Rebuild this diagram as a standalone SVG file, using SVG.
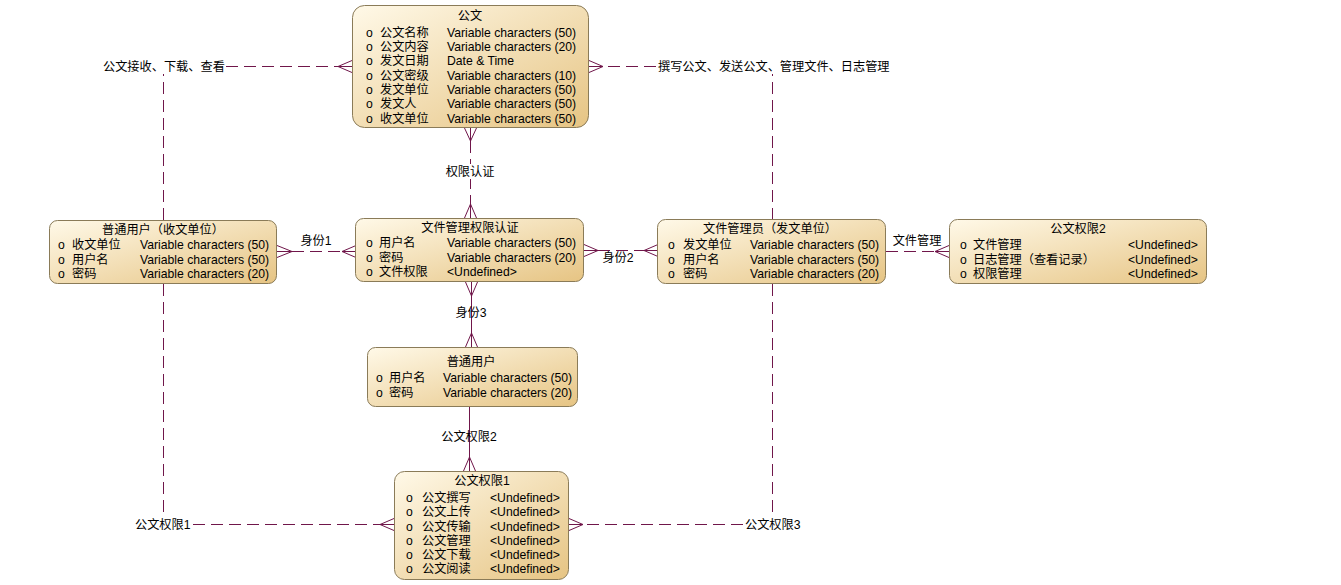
<svg xmlns="http://www.w3.org/2000/svg" width="1341" height="585" viewBox="0 0 1341 585">
<defs>
<linearGradient id="g" x1="0" y1="0" x2="1" y2="1">
<stop offset="0" stop-color="#fff9e8"/>
<stop offset="1" stop-color="#e6c483"/>
</linearGradient>
</defs>
<style>
.n{fill:url(#g);stroke:#8a7b58;stroke-width:1}
.t{font-family:"Liberation Sans","Noto Sans CJK SC",sans-serif;font-size:12.2px;fill:#000}
.m{text-anchor:middle}
.c{fill:none;stroke:#70164a;stroke-width:1}
.d{stroke-dasharray:12 6}
.bg{fill:#fff}
</style>
<rect width="1341" height="585" fill="#fff"/>
<g id="connectors">
<path class="c d" d="M163.5,220 V66.5 H338"/>
<path class="c" d="M338,66.5 L352,60.5 M338,66.5 L352,66.5 M338,66.5 L352,72.5"/>
<rect class="bg" x="101" y="59" width="124" height="15"/>
<text class="t" x="103" y="70.5">公文接收、下载、查看</text>
<path class="c d" d="M772.5,220 V66.5 H603"/>
<path class="c" d="M603,66.5 L589,60.5 M603,66.5 L589,66.5 M603,66.5 L589,72.5"/>
<rect class="bg" x="656" y="59" width="232" height="15"/>
<text class="t" x="658" y="70.5">撰写公文、发送公文、管理文件、日志管理</text>
<path class="c d" d="M470.5,141 V204"/>
<path class="c" d="M470.5,141 L464.5,128 M470.5,141 L470.5,128 M470.5,141 L476.5,128"/>
<path class="c" d="M470.5,204 L464.5,218 M470.5,204 L470.5,218 M470.5,204 L476.5,218"/>
<rect class="bg" x="444" y="164" width="52" height="15"/>
<text class="t m" x="470" y="176">权限认证</text>
<path class="c d" d="M292,251.5 H342"/>
<path class="c" d="M292,251.5 L277,245.5 M292,251.5 L277,251.5 M292,251.5 L277,257.5"/>
<path class="c" d="M342,251.5 L356,245.5 M342,251.5 L356,251.5 M342,251.5 L356,257.5"/>
<text class="t m" x="316" y="245">身份1</text>
<path class="c d" d="M598,250.5 H644"/>
<path class="c" d="M598,250.5 L584,244.5 M598,250.5 L584,250.5 M598,250.5 L584,256.5"/>
<path class="c" d="M644,250.5 L658,244.5 M644,250.5 L658,250.5 M644,250.5 L658,256.5"/>
<text class="t m" x="618" y="262">身份2</text>
<path class="c d" d="M886,251.5 H935"/>
<path class="c" d="M935,251.5 L949,245.5 M935,251.5 L949,251.5 M935,251.5 L949,257.5"/>
<text class="t m" x="917" y="245">文件管理</text>
<path class="c" d="M471.5,296 V333"/>
<path class="c" d="M471.5,296 L465.5,282 M471.5,296 L471.5,282 M471.5,296 L477.5,282"/>
<path class="c" d="M471.5,333 L465.5,347 M471.5,333 L471.5,347 M471.5,333 L477.5,347"/>
<text class="t m" x="471" y="317">身份3</text>
<path class="c" d="M469.5,407 V457"/>
<path class="c" d="M469.5,457 L463.5,471 M469.5,457 L469.5,471 M469.5,457 L475.5,471"/>
<text class="t m" x="469" y="441">公文权限2</text>
<path class="c d" d="M163.5,284 V524.5 H380"/>
<path class="c" d="M380,524.5 L394,518.5 M380,524.5 L394,524.5 M380,524.5 L394,530.5"/>
<rect class="bg" x="133" y="517" width="59" height="15"/>
<text class="t" x="135" y="528.5">公文权限1</text>
<path class="c d" d="M772.5,284 V524.5 H583"/>
<path class="c" d="M583,524.5 L569,518.5 M583,524.5 L569,524.5 M583,524.5 L569,530.5"/>
<rect class="bg" x="743" y="517" width="59" height="15"/>
<text class="t" x="745" y="528.5">公文权限3</text>
</g>
<g id="node-gongwen">
<rect class="n" x="352.5" y="5.5" width="236" height="122" rx="12"/>
<text class="t m" x="470" y="19.5">公文</text>
<g class="t">
<text x="366" y="36.5">o</text><text x="380" y="36.5">公文名称</text><text x="447" y="36.5">Variable characters (50)</text>
<text x="366" y="51">o</text><text x="380" y="51">公文内容</text><text x="447" y="51">Variable characters (20)</text>
<text x="366" y="65">o</text><text x="380" y="65">发文日期</text><text x="447" y="65">Date &amp; Time</text>
<text x="366" y="79.5">o</text><text x="380" y="79.5">公文密级</text><text x="447" y="79.5">Variable characters (10)</text>
<text x="366" y="93.5">o</text><text x="380" y="93.5">发文单位</text><text x="447" y="93.5">Variable characters (50)</text>
<text x="366" y="108">o</text><text x="380" y="108">发文人</text><text x="447" y="108">Variable characters (50)</text>
<text x="366" y="122.5">o</text><text x="380" y="122.5">收文单位</text><text x="447" y="122.5">Variable characters (50)</text>
</g>
</g>
<g id="node-putongyonghu-shouwen">
<rect class="n" x="49.5" y="220.5" width="227" height="63" rx="8"/>
<text class="t m" x="163" y="233.5">普通用户（收文单位）</text>
<g class="t">
<text x="58" y="249">o</text><text x="72" y="249">收文单位</text><text x="140" y="249">Variable characters (50)</text>
<text x="58" y="264">o</text><text x="72" y="264">用户名</text><text x="140" y="264">Variable characters (50)</text>
<text x="58" y="278">o</text><text x="72" y="278">密码</text><text x="140" y="278">Variable characters (20)</text>
</g>
</g>
<g id="node-renzheng">
<rect class="n" x="355.5" y="218.5" width="228" height="63" rx="8"/>
<text class="t m" x="470" y="232">文件管理权限认证</text>
<g class="t">
<text x="366" y="247">o</text><text x="379" y="247">用户名</text><text x="447" y="247">Variable characters (50)</text>
<text x="366" y="261.5">o</text><text x="379" y="261.5">密码</text><text x="447" y="261.5">Variable characters (20)</text>
<text x="366" y="276">o</text><text x="379" y="276">文件权限</text><text x="447" y="276">&lt;Undefined&gt;</text>
</g>
</g>
<g id="node-guanliyuan">
<rect class="n" x="657.5" y="219.5" width="228" height="64" rx="8"/>
<text class="t m" x="770" y="233">文件管理员（发文单位）</text>
<g class="t">
<text x="668" y="249">o</text><text x="683" y="249">发文单位</text><text x="750" y="249">Variable characters (50)</text>
<text x="668" y="263.5">o</text><text x="683" y="263.5">用户名</text><text x="750" y="263.5">Variable characters (50)</text>
<text x="668" y="278">o</text><text x="683" y="278">密码</text><text x="750" y="278">Variable characters (20)</text>
</g>
</g>
<g id="node-quanxian2">
<rect class="n" x="949.5" y="219.5" width="257" height="64" rx="8"/>
<text class="t m" x="1078" y="232.5">公文权限2</text>
<g class="t">
<text x="960" y="249">o</text><text x="973" y="249">文件管理</text><text x="1128" y="249">&lt;Undefined&gt;</text>
<text x="960" y="263.5">o</text><text x="973" y="263.5">日志管理（查看记录）</text><text x="1128" y="263.5">&lt;Undefined&gt;</text>
<text x="960" y="278">o</text><text x="973" y="278">权限管理</text><text x="1128" y="278">&lt;Undefined&gt;</text>
</g>
</g>
<g id="node-putongyonghu">
<rect class="n" x="367.5" y="347.5" width="210" height="59" rx="8"/>
<text class="t m" x="471" y="366">普通用户</text>
<g class="t">
<text x="376" y="382">o</text><text x="389" y="382">用户名</text><text x="443" y="382">Variable characters (50)</text>
<text x="376" y="397">o</text><text x="389" y="397">密码</text><text x="443" y="397">Variable characters (20)</text>
</g>
</g>
<g id="node-quanxian1">
<rect class="n" x="394.5" y="471.5" width="174" height="108" rx="10"/>
<text class="t m" x="482" y="485">公文权限1</text>
<g class="t">
<text x="406" y="502">o</text><text x="422" y="502">公文撰写</text><text x="490" y="502">&lt;Undefined&gt;</text>
<text x="406" y="516">o</text><text x="422" y="516">公文上传</text><text x="490" y="516">&lt;Undefined&gt;</text>
<text x="406" y="531">o</text><text x="422" y="531">公文传输</text><text x="490" y="531">&lt;Undefined&gt;</text>
<text x="406" y="545">o</text><text x="422" y="545">公文管理</text><text x="490" y="545">&lt;Undefined&gt;</text>
<text x="406" y="559">o</text><text x="422" y="559">公文下载</text><text x="490" y="559">&lt;Undefined&gt;</text>
<text x="406" y="573">o</text><text x="422" y="573">公文阅读</text><text x="490" y="573">&lt;Undefined&gt;</text>
</g>
</g>
</svg>
